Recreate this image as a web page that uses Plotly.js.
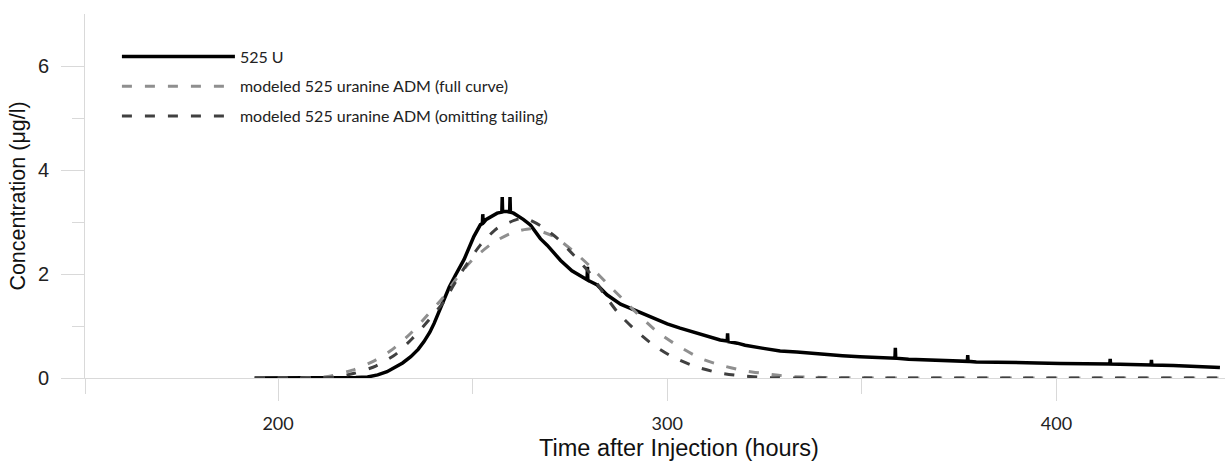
<!DOCTYPE html>
<html>
<head>
<meta charset="utf-8">
<script src="https://cdn.plot.ly/plotly-3.0.1.min.js"></script>
<style>html,body{margin:0;padding:0;background:#fff;}#chart{width:1225px;height:463px;}</style>
</head>
<body>
<div id="chart"></div>
<script>
// Observed 525 U (time in hours, concentration in µg/l)
const obsTime = [194,200,205,210,215,220,223,225.6,228,229.8,232,234.1,236,237.5,239,240.1,241.4,242.6,244,245.6,247.8,250.3,252,252.5,252.6,252.7,253.5,255,256.3,257.5,257.6,257.7,258.9,259.5,259.6,259.7,260.5,261.4,263,264.9,267.4,269.2,272.6,275.5,277.7,279.4,279.5,279.6,282,284.5,288,291.4,295,297.4,300,303.3,306,308.5,311,313.6,315.4,315.5,315.6,318,320,324.7,329,333.3,336,339,341.8,345,349.5,353,356,358.5,358.6,358.7,362,365,369,373.3,377.1,377.2,377.3,379.4,384,389,395,401,407,413.7,413.8,413.9,419,424.3,424.4,424.5,430,435,439,442];
const obsConc = [0,0,0,0,0,0.01,0.02,0.06,0.12,0.19,0.29,0.41,0.55,0.7,0.88,1.05,1.28,1.5,1.75,1.98,2.28,2.72,2.95,2.97,3.15,2.98,3.05,3.12,3.17,3.19,3.48,3.2,3.2,3.19,3.48,3.19,3.17,3.13,3.05,2.94,2.68,2.55,2.26,2.06,1.96,1.89,2.14,1.88,1.79,1.6,1.42,1.31,1.2,1.12,1.04,0.96,0.9,0.84,0.78,0.73,0.71,0.86,0.7,0.67,0.63,0.57,0.52,0.5,0.48,0.47,0.45,0.43,0.41,0.4,0.39,0.38,0.58,0.38,0.36,0.35,0.34,0.33,0.32,0.44,0.32,0.31,0.3,0.29,0.29,0.28,0.28,0.27,0.37,0.27,0.26,0.25,0.35,0.25,0.24,0.23,0.22,0.2];

// Modeled 525 uranine ADM (full curve)
const fullTime = [194,200,205,210,213.6,219.1,224.7,229.4,234.1,238.4,242.2,246.5,250.3,255,259.7,265,270.9,276,280.3,284.5,288.8,293.1,297.4,302.5,308.5,313.6,319.6,325.6,331.5,340,360,400,442];
const fullConc = [0,0,0,0.01,0.04,0.15,0.33,0.55,0.86,1.21,1.53,1.98,2.3,2.59,2.78,2.87,2.72,2.43,2.14,1.82,1.5,1.18,0.89,0.63,0.38,0.25,0.14,0.08,0.03,0.01,0,0,0];

// Modeled 525 uranine ADM (omitting tailing)
const omitTime = [194,200,205,210,215,219.6,225.1,230.3,234.5,238.8,242.6,246.9,252,256.3,261.4,263.5,267.4,271.7,276,280.3,283.7,287.5,291.8,296.5,301.5,307.2,313.2,319.2,325,335,360,400,442];
const omitConc = [0,0,0,0,0.02,0.09,0.23,0.46,0.76,1.12,1.47,2.01,2.56,2.88,3.05,3.07,2.93,2.69,2.36,2.0,1.62,1.24,0.92,0.63,0.4,0.22,0.1,0.04,0.01,0,0,0,0];

const seriesNames = ['525 U','modeled 525 uranine ADM (full curve)','modeled 525 uranine ADM (omitting tailing)'];
const xTickVals = [200,300,400];
const yTickVals = [0,2,4,6];

const traces = [
  {x: obsTime, y: obsConc, name: seriesNames[0], legendgroup:'a', mode:'lines',
   line:{color:'#000000', width:3.5}},
  {x: fullTime, y: fullConc, name: seriesNames[1], legendgroup:'b', mode:'lines', line:{shape:'spline', smoothing:0.6,
   color:'#8f8f8f', width:3, dash:'10px,13px'}},
  {x: omitTime, y: omitConc, name: seriesNames[2], legendgroup:'c', mode:'lines', line:{shape:'spline', smoothing:0.6,
   color:'#404040', width:3, dash:'10px,13px'}}
];

const layout = {
  width:1225, height:463,
  margin:{l:85, r:0, t:14, b:85},
  paper_bgcolor:'#ffffff', plot_bgcolor:'#ffffff',
  showlegend:true,
  legend:{x:0.028, y:0.93, xanchor:'left', yanchor:'top', bgcolor:'rgba(0,0,0,0)',
    font:{family:'Lato, sans-serif', size:16, color:'#222'}, itemwidth:113, tracegroupgap:6, traceorder:'grouped'},
  xaxis:{range:[150.4,443.3], showgrid:false, zeroline:false, showline:true, linecolor:'#d9d9d9', linewidth:1,
    tickmode:'array', tickvals:xTickVals, ticks:'outside', ticklen:22, tickcolor:'#d9d9d9', tickwidth:1,
    ticklabelstandoff:7,
    minor:{tickmode:'array', tickvals:[150.4,250,350], ticks:'outside', ticklen:15, tickcolor:'#d9d9d9', tickwidth:1, showgrid:false},
    tickfont:{family:'Lato, sans-serif', size:18, color:'#222'}},
  yaxis:{range:[0,7], showgrid:false, zeroline:false, showline:true, linecolor:'#d9d9d9', linewidth:1,
    tickmode:'array', tickvals:yTickVals, ticks:'outside', ticklen:23, tickcolor:'#d9d9d9', tickwidth:1,
    ticklabelstandoff:8,
    minor:{tickmode:'array', tickvals:[1,3,5], ticks:'outside', ticklen:12, tickcolor:'#d9d9d9', tickwidth:1, showgrid:false},
    tickfont:{family:'Liberation Sans, Arial, sans-serif', size:20, color:'#222'},
    title:{text:'Concentration (μg/l)', font:{family:'Liberation Sans, Arial, sans-serif', size:21.5, color:'#111'}, standoff:6}},
  annotations:[{text:'Time after Injection (hours)', xref:'paper', yref:'paper', x:0.521, y:-0.192,
    xanchor:'center', yanchor:'middle', showarrow:false,
    font:{family:'Liberation Sans, Arial, sans-serif', size:23.5, color:'#111'}}]
};

Plotly.newPlot('chart', traces, layout, {displayModeBar:false, staticPlot:true});
</script>
</body>
</html>
